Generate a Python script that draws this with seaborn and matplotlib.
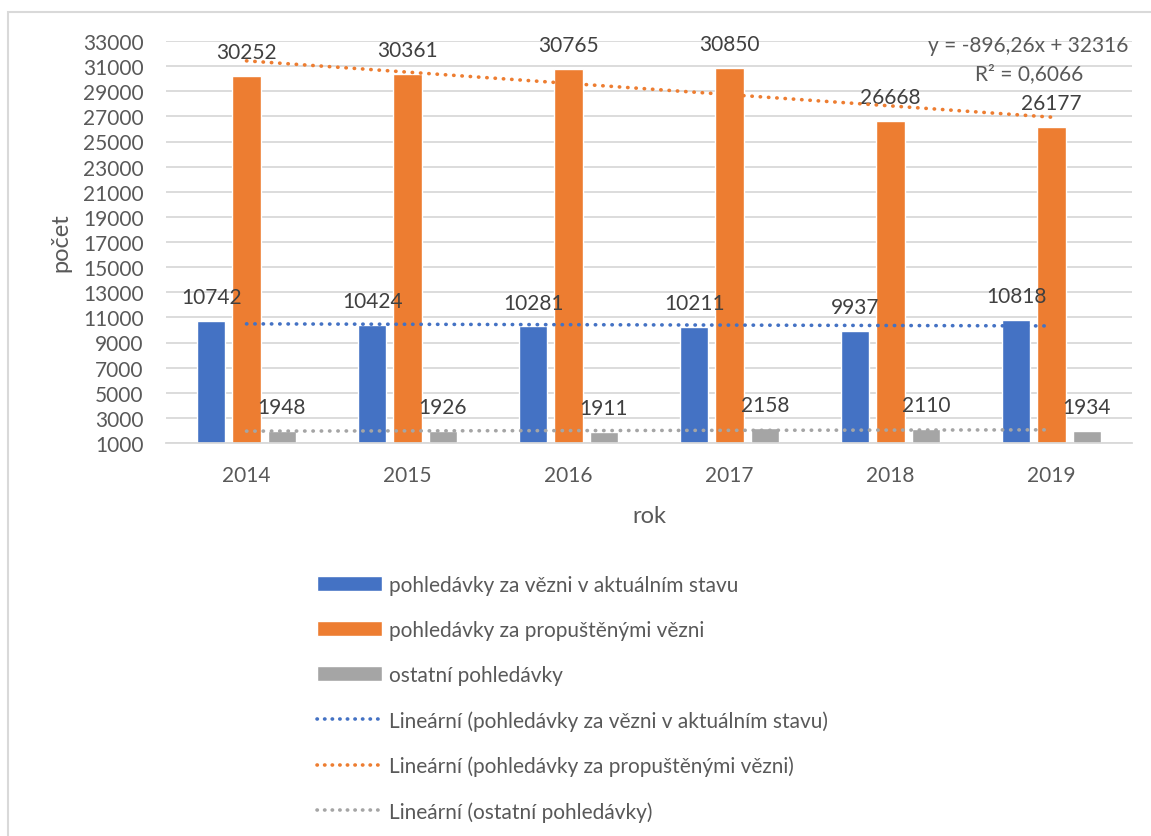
import numpy as np
import pandas as pd
import matplotlib
matplotlib.use('Agg')
import matplotlib.pyplot as plt
import seaborn as sns
from matplotlib.patches import Patch, Rectangle
from matplotlib.lines import Line2D

years = ['2014', '2015', '2016', '2017', '2018', '2019']
series_names = ['pohledávky za vězni v aktuálním stavu',
                'pohledávky za propuštěnými vězni',
                'ostatní pohledávky']
current = [10742, 10424, 10281, 10211, 9937, 10818]
released = [30252, 30361, 30765, 30850, 26668, 26177]
other = [1948, 1926, 1911, 2158, 2110, 1934]
y_ticks = list(range(1000, 33001, 2000))
trend_text = 'y = -896,26x + 32316\nR² = 0,6066'

colors = ['#4472C4', '#ED7D31', '#A5A5A5']
text_col = '#595959'

df = pd.DataFrame({
    'rok': years * 3,
    'serie': np.repeat(series_names, len(years)),
    'pocet': current + released + other,
})

sns.set_style('white')
plt.rcParams['font.family'] = ['Lato', 'DejaVu Sans']

fig = plt.figure(figsize=(11.51, 8.37), dpi=100)
ax = fig.add_axes([166 / 1151, 1 - 444 / 837, 966 / 1151, 402 / 837])

# chart area border (only left and top edge fall inside the picture)
fig.patches.append(Rectangle((8 / 1151, -0.2), 1.3, 1.2 - 13 / 837,
                             transform=fig.transFigure, fill=False,
                             edgecolor='#d9d9d9', linewidth=1.5))

sns.barplot(data=df, x='rok', y='pocet', hue='serie', order=years,
            hue_order=series_names, palette=colors, width=0.66, gap=0.2,
            saturation=1, legend=False, ax=ax)

for cont in ax.containers:
    ax.bar_label(cont, fmt='%d', padding=10, fontsize=15, color='#404040')

# linear trend lines (Excel style, x = 1..6)
xs = np.arange(1, len(years) + 1)
for vals, c in zip([current, released, other], colors):
    k, q = np.polyfit(xs, vals, 1)
    ax.plot(xs - 1, k * xs + q, color=c, linestyle=(0, (0.1, 2.2)),
            linewidth=2.6, dash_capstyle='round', zorder=3)

ax.text(0.893, 0.955, trend_text, transform=ax.transAxes, ha='center',
        va='center', multialignment='center', fontsize=15, color=text_col,
        linespacing=1.45)

ax.set_ylim(1000, 33000)
ax.set_xlim(-0.5, len(years) - 0.5)
ax.set_yticks(y_ticks)
ax.set_yticklabels([str(t) for t in y_ticks])
ax.yaxis.grid(True, color='#d9d9d9', linewidth=1.3)
ax.set_axisbelow(True)
for s in ['top', 'right', 'left']:
    ax.spines[s].set_visible(False)
ax.spines['bottom'].set_color('#d9d9d9')
ax.spines['bottom'].set_linewidth(1.3)
ax.tick_params(axis='y', length=0, pad=16, labelsize=15, labelcolor=text_col)
ax.tick_params(axis='x', length=0, pad=16, labelsize=15, labelcolor=text_col)
ax.set_xlabel('rok', fontsize=17, color=text_col, labelpad=14)
ax.set_ylabel('počet', fontsize=17, color=text_col, va='center')
ax.yaxis.set_label_coords((61 - 166) / 966, 0.5)

handles = [Patch(facecolor=c) for c in colors]
handles += [Line2D([0], [0], color=c, linestyle=(0, (0.1, 2.0)), linewidth=2.6,
                   dash_capstyle='round') for c in colors]
labels = series_names + ['Lineární (' + n + ')' for n in series_names]
fig.legend(handles, labels, loc='upper left',
           bbox_to_anchor=(317 / 1151, 1 - 576 / 837), frameon=False,
           fontsize=15, labelcolor=text_col, handlelength=3.1,
           handleheight=0.7, handletextpad=0.35, labelspacing=1.2,
           borderpad=0, borderaxespad=0)

fig.savefig('out.png', dpi=100)
